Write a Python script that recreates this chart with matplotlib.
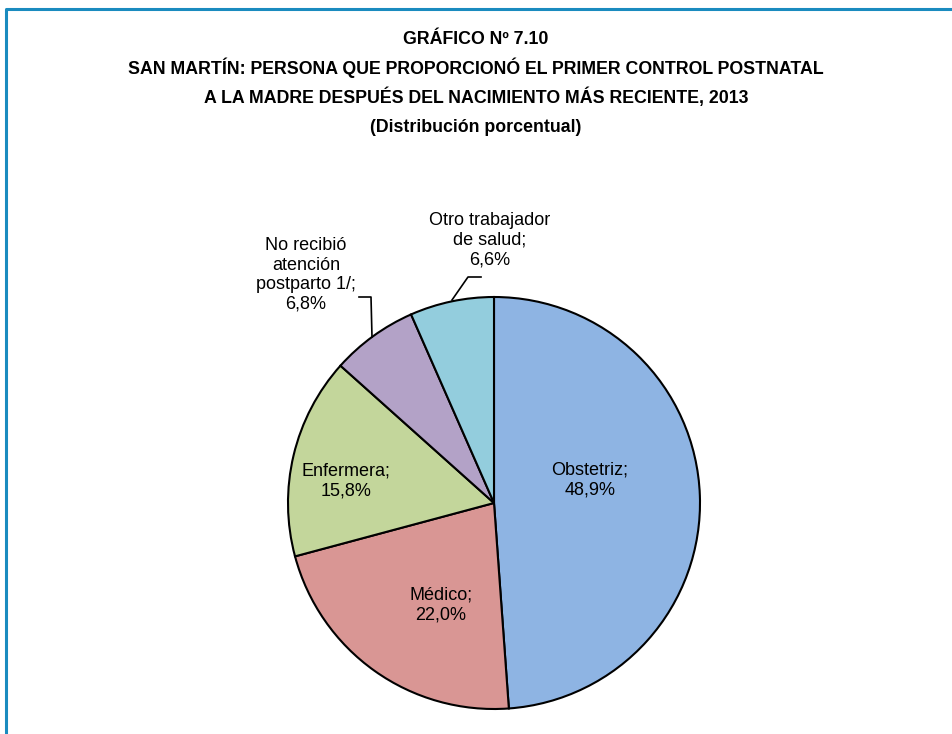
import matplotlib
matplotlib.use('Agg')
import matplotlib.pyplot as plt

# data
categorias = ['Obstetriz', 'Médico', 'Enfermera', 'No recibió\natención\npostparto 1/', 'Otro trabajador\nde salud']
porcentajes = [48.9, 22.0, 15.8, 6.8, 6.6]
etiquetas = ['48,9%', '22,0%', '15,8%', '6,8%', '6,6%']
colores = ['#8EB4E3', '#D99694', '#C3D69B', '#B3A2C7', '#93CDDD']

W, H = 952, 734
plt.rcParams['font.family'] = ['Liberation Sans', 'DejaVu Sans']

fig = plt.figure(figsize=(W / 100, H / 100), dpi=100)
ax = fig.add_axes([0, 0, 1, 1])

def Y(y):
    # image y (from top) -> axis y
    return H - y

# frame
ax.plot([6, 6, W + 5], [Y(H + 5), Y(9), Y(9)], color='#1A8BBF', lw=2.2, solid_capstyle='butt')

# titles
titulos = ['GRÁFICO Nº 7.10',
           'SAN MARTÍN: PERSONA QUE PROPORCIONÓ EL PRIMER CONTROL POSTNATAL',
           'A LA MADRE DESPUÉS DEL NACIMIENTO MÁS RECIENTE, 2013',
           '(Distribución porcentual)']
for t, yy in zip(titulos, [40, 68, 97, 127]):
    ax.text(476, Y(yy), t, ha='center', va='center', fontsize=12.8, fontweight='bold')

# pie
ax.pie(porcentajes, colors=colores, startangle=90, counterclock=False,
       center=(494, Y(503)), radius=206, frame=True,
       wedgeprops=dict(edgecolor='black', linewidth=1.5))
ax.set_xlim(0, W)
ax.set_ylim(0, H)
ax.set_aspect('equal')
ax.axis('off')

# labels
pos = [(590, 480), (441, 605), (346, 481), (306, 275), (490, 240)]
for c, e, (x, y) in zip(categorias, etiquetas, pos):
    ax.text(x, Y(y), c + ';\n' + e, ha='center', va='center', fontsize=13, linespacing=1.2)

# leader lines
ax.plot([359, 371, 372], [Y(297), Y(297), Y(337)], color='black', lw=1.2)
ax.plot([481, 468, 452], [Y(277), Y(277), Y(300)], color='black', lw=1.2)

fig.savefig('out.png', dpi=100)
